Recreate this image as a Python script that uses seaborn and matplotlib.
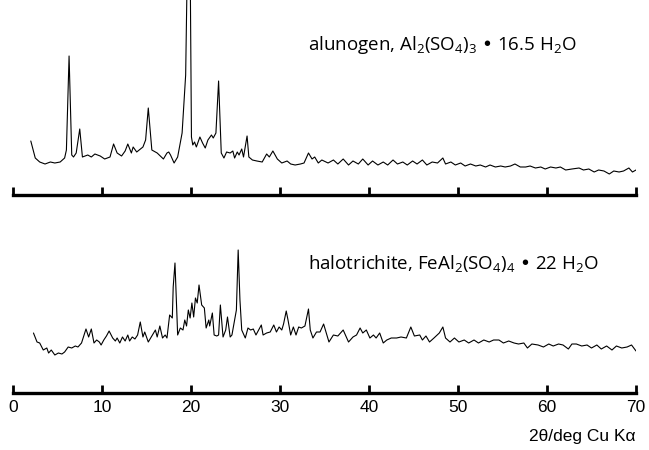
import seaborn as sns
import matplotlib.pyplot as plt
import pandas as pd

# alunogen pattern (2theta in deg, intensity arb.)
alu_2theta = [2.0, 2.5, 3.0, 3.6, 4.2, 4.7, 5.3, 5.8, 6.0, 6.3, 6.6, 6.8, 7.1, 7.5, 7.8,
              8.4, 8.8, 9.2, 9.8, 10.3, 10.9, 11.3, 11.7, 12.2, 12.6, 12.9, 13.3, 13.5,
              13.9, 14.6, 14.9, 15.2, 15.6, 16.2, 16.9, 17.3, 17.5, 17.7, 18.1, 18.5, 19.0,
              19.4, 19.6, 19.9, 20.05, 20.2, 20.4, 20.6, 21.0, 21.3, 21.6, 21.9, 22.3, 22.5,
              22.8, 23.1, 23.4, 23.7, 24.0, 24.4, 24.7, 24.9, 25.2, 25.4, 25.7, 25.9, 26.3,
              26.5, 26.9, 27.4, 28.0, 28.5, 28.8, 29.2, 29.7, 30.2, 30.8, 31.2, 31.7, 32.3,
              32.7, 33.2, 33.6, 33.9, 34.3, 34.7, 35.4, 36.0, 36.5, 37.1, 37.7, 38.2, 38.8,
              39.3, 39.9, 40.4, 41.0, 41.6, 42.1, 42.7, 43.2, 43.8, 44.3, 44.9, 45.4, 46.0,
              46.5, 47.1, 47.7, 48.3, 48.6, 49.2, 49.7, 50.3, 50.8, 51.4, 52.0, 52.5, 53.1,
              53.6, 54.2, 54.8, 55.3, 55.9, 56.4, 57.0, 57.6, 58.1, 58.7, 59.3, 59.8, 60.4,
              61.0, 61.5, 62.1, 62.8, 63.6, 64.1, 64.7, 65.3, 65.8, 66.4, 67.0, 67.5, 68.1,
              68.6, 69.2, 69.6, 70.0]
alu_counts = [54, 37, 33, 31, 33, 32, 33, 37, 45, 139, 40, 38, 42, 66, 38,
              40, 38, 41, 39, 36, 38, 51, 42, 39, 44, 51, 42, 48,
              43, 48, 55, 87, 45, 42, 36, 42, 43, 40, 32, 38, 62,
              120, 240, 240, 58, 50, 53, 48, 58, 52, 47, 55, 60, 57,
              62, 114, 42, 37, 43, 42, 44, 37, 43, 40, 46, 38, 59,
              38, 35, 34, 33, 41, 38, 44, 36, 32, 34, 31, 30, 31,
              32, 42, 36, 38, 32, 35, 32, 35, 31, 36, 30, 34, 31,
              36, 30, 34, 30, 33, 30, 35, 31, 33, 30, 34, 31, 35,
              30, 33, 32, 37, 31, 33, 30, 32, 29, 31, 29, 30, 28,
              30, 28, 29, 28, 29, 31, 28, 28, 29, 27, 28, 26, 28,
              27, 28, 25, 26, 27, 25, 26, 23, 25, 24, 21, 24, 23,
              24, 27, 23, 25]

# halotrichite pattern
hal_2theta = [2.3, 2.7, 3.0, 3.4, 3.8, 4.0, 4.3, 4.7, 5.1, 5.5, 5.8, 6.2, 6.6, 7.0, 7.3,
              7.7, 8.2, 8.5, 8.8, 9.1, 9.4, 9.7, 9.9, 10.2, 10.5, 10.8, 11.2, 11.5, 11.7,
              12.0, 12.3, 12.6, 12.9, 13.1, 13.4, 13.7, 14.0, 14.3, 14.6, 14.8, 15.2, 15.6,
              16.0, 16.2, 16.5, 16.8, 17.1, 17.3, 17.6, 17.9, 18.0, 18.2, 18.5, 18.8, 19.1,
              19.3, 19.5, 19.7, 19.9, 20.1, 20.3, 20.5, 20.7, 20.9, 21.2, 21.5, 21.7, 22.0,
              22.1, 22.4, 22.6, 22.9, 23.1, 23.3, 23.6, 23.9, 24.1, 24.4, 24.6, 24.9, 25.1,
              25.3, 25.5, 25.7, 26.1, 26.4, 26.7, 27.0, 27.3, 27.6, 27.9, 28.1, 28.5, 28.9,
              29.3, 29.6, 29.9, 30.2, 30.4, 30.7, 30.9, 31.2, 31.5, 31.8, 32.1, 32.4, 32.8,
              33.2, 33.4, 33.7, 34.1, 34.5, 34.9, 35.2, 35.5, 36.0, 36.5, 37.1, 37.7, 38.2,
              38.6, 39.0, 39.3, 39.7, 40.1, 40.5, 40.8, 41.2, 41.6, 42.0, 42.5, 43.1, 43.6,
              44.2, 44.7, 45.1, 45.7, 46.0, 46.4, 46.8, 47.3, 47.9, 48.3, 48.6, 49.1, 49.6,
              50.1, 50.7, 51.2, 51.8, 52.3, 52.9, 53.5, 54.0, 54.6, 55.1, 55.7, 56.3, 56.8,
              57.4, 57.8, 58.3, 59.0, 59.6, 60.2, 60.7, 61.3, 61.8, 62.4, 62.8, 63.3, 63.9,
              64.5, 65.0, 65.6, 66.1, 66.7, 67.3, 67.8, 68.4, 69.0, 69.5, 70.0]
hal_counts = [60, 51, 50, 43, 45, 40, 43, 38, 40, 39, 41, 46, 45, 47, 46,
              50, 64, 56, 64, 50, 53, 51, 48, 53, 57, 62, 55, 52, 55,
              50, 56, 52, 58, 52, 56, 54, 58, 71, 56, 61, 51, 57,
              63, 56, 67, 55, 58, 55, 78, 75, 106, 130, 58, 65, 63,
              73, 67, 83, 75, 90, 76, 95, 90, 108, 88, 85, 65, 73,
              67, 80, 58, 57, 58, 88, 56, 63, 76, 56, 58, 73, 83,
              143, 93, 63, 55, 65, 63, 64, 58, 63, 68, 58, 60, 61,
              68, 61, 66, 63, 69, 82, 73, 58, 66, 58, 66, 65, 67,
              84, 63, 55, 61, 61, 69, 60, 51, 58, 57, 63, 51, 56,
              58, 65, 60, 63, 55, 58, 55, 60, 50, 53, 55, 55, 56,
              55, 66, 57, 58, 53, 57, 51, 55, 60, 66, 55, 51, 55,
              51, 53, 50, 53, 50, 53, 51, 53, 53, 50, 52, 50, 49,
              50, 45, 49, 48, 46, 49, 47, 49, 48, 44, 49, 49, 47,
              48, 45, 48, 44, 47, 43, 47, 45, 46, 48, 42]

alu_label = "alunogen, Al$_2$(SO$_4$)$_3$ \u2022 16.5 H$_2$O"
hal_label = "halotrichite, FeAl$_2$(SO$_4$)$_4$ \u2022 22 H$_2$O"
x_ticks = [0, 10, 20, 30, 40, 50, 60, 70]

sns.set_style("white")
plt.rcParams['font.family'] = ['Open Sans', 'DejaVu Sans']
plt.rcParams['mathtext.default'] = 'regular'
plt.rcParams['text.color'] = 'black'
plt.rcParams['xtick.color'] = 'black'

df_alu = pd.DataFrame({'two_theta': alu_2theta, 'counts': alu_counts})
df_hal = pd.DataFrame({'two_theta': hal_2theta, 'counts': hal_counts})

fig = plt.figure(figsize=(6.49, 4.50), dpi=100)
ax_top = fig.add_axes([13 / 649, 1 - 195 / 450, 623 / 649, 195 / 450])
ax_bot = fig.add_axes([13 / 649, 1 - 393 / 450, 623 / 649, 193 / 450])

for ax, df, ymax in [(ax_top, df_alu, 195), (ax_bot, df_hal, 193)]:
    sns.lineplot(data=df, x='two_theta', y='counts', ax=ax, color='black',
                 linewidth=0.8, estimator=None, sort=False)
    ax.set_xlim(0, 70)
    ax.set_ylim(0, ymax)
    for s in ['top', 'left', 'right']:
        ax.spines[s].set_visible(False)
    ax.spines['bottom'].set_linewidth(2.4)
    ax.spines['bottom'].set_color('black')
    ax.set_xticks(x_ticks)
    ax.set_yticks([])
    ax.tick_params(axis='x', bottom=True, direction='in', length=6, width=2,
                   color='black', labelcolor='black', pad=5, labelsize=12.5)
    ax.set_xlabel('')
    ax.set_ylabel('')
    ax.patch.set_alpha(0)

ax_top.set_xticklabels([])
for lab in ax_bot.get_xticklabels():
    lab.set_family(['Liberation Sans', 'DejaVu Sans'])

fig.text(308 / 649, 1 - 45 / 450, alu_label, fontsize=13.5, va='center', ha='left',
         color='black')
fig.text(308 / 649, 1 - 263 / 450, hal_label, fontsize=13.5, va='center', ha='left',
         color='black')
fig.text(636 / 649, 1 - 437 / 450, '2θ/deg Cu Kα', fontsize=12.5, va='center', ha='right',
         color='black', family=['Liberation Sans', 'DejaVu Sans'])

fig.savefig('out.png', dpi=100)
